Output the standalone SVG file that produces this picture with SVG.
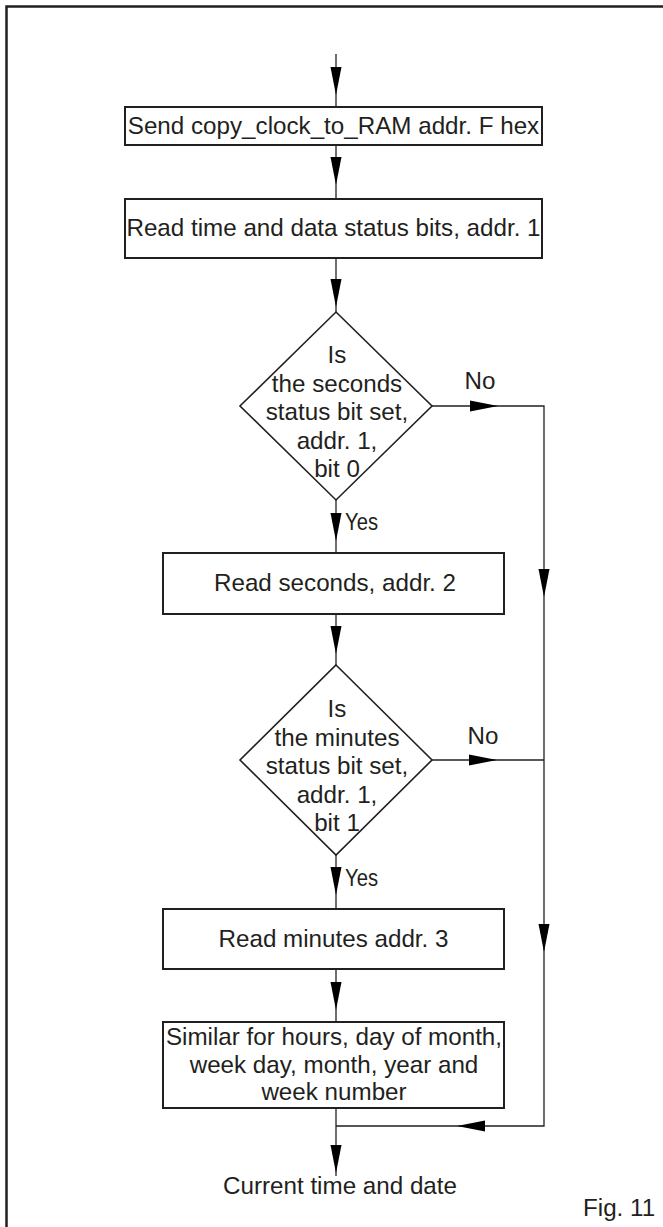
<svg xmlns="http://www.w3.org/2000/svg" xmlns:xlink="http://www.w3.org/1999/xlink" width="663" height="1227" viewBox="0 0 663 1227">
<style>
.frame{fill:none;stroke:#231f20;stroke-width:2.5}
.box{fill:#fff;stroke:#231f20;stroke-width:2}
.dia{fill:#fff;stroke:#231f20;stroke-width:1.6}
.ln{fill:none;stroke:#231f20;stroke-width:1.3}
.ah{fill:#000;stroke:none}
text{font-family:"Liberation Sans",Arial,Helvetica,sans-serif;font-size:24.2px;fill:#231f20}
.c{text-anchor:middle}
</style>
<defs>
<path id="ah" d="M-5.5,-28 L5.5,-28 L0,0 Z"/>
</defs>
<rect width="663" height="1227" fill="#fff"/>
<path class="frame" d="M6.5,1227 V6.5 H663"/>
<g id="connectors">
<path class="ln" d="M336,54 V107"/>
<path class="ln" d="M336,145 V199"/>
<path class="ln" d="M336,258 V312"/>
<path class="ln" d="M336,500 V553"/>
<path class="ln" d="M336,614 V665"/>
<path class="ln" d="M336,855 V909"/>
<path class="ln" d="M336,969 V1022"/>
<path class="ln" d="M336,1108 V1176"/>
<path class="ln" d="M432,406 H544 V1126 H336"/>
<path class="ln" d="M432,760 H544"/>
<use class="ah" xlink:href="#ah" transform="translate(336,95)"/>
<use class="ah" xlink:href="#ah" transform="translate(336,185)"/>
<use class="ah" xlink:href="#ah" transform="translate(336,307)"/>
<use class="ah" xlink:href="#ah" transform="translate(336,541)"/>
<use class="ah" xlink:href="#ah" transform="translate(336,654)"/>
<use class="ah" xlink:href="#ah" transform="translate(336,895)"/>
<use class="ah" xlink:href="#ah" transform="translate(336,1010)"/>
<use class="ah" xlink:href="#ah" transform="translate(336,1173)"/>
<use class="ah" xlink:href="#ah" transform="translate(498,406) rotate(-90)"/>
<use class="ah" xlink:href="#ah" transform="translate(497,760) rotate(-90)"/>
<use class="ah" xlink:href="#ah" transform="translate(544,597)"/>
<use class="ah" xlink:href="#ah" transform="translate(544,952)"/>
<use class="ah" xlink:href="#ah" transform="translate(457,1126) rotate(90)"/>
<text x="480" y="389" class="c">No</text>
<text x="483" y="744" class="c">No</text>
<text x="345" y="530" textLength="33" lengthAdjust="spacingAndGlyphs">Yes</text>
<text x="345" y="886" textLength="33" lengthAdjust="spacingAndGlyphs">Yes</text>
</g>
<g id="send">
<rect class="box" x="125" y="107" width="417" height="38"/>
<text x="333.5" y="134" class="c">Send copy_clock_to_RAM addr. F hex</text>
</g>
<g id="readstatus">
<rect class="box" x="125" y="199" width="417" height="59"/>
<text x="333.5" y="236" class="c">Read time and data status bits, addr. 1</text>
</g>
<g id="dec-seconds">
<path class="dia" d="M336,312 L432,406 L336,500 L240,406 Z"/>
<text x="337" y="363" class="c">Is</text>
<text x="337" y="391.5" class="c">the seconds</text>
<text x="337" y="420" class="c">status bit set,</text>
<text x="337" y="448.5" class="c">addr. 1,</text>
<text x="337" y="477" class="c">bit 0</text>
</g>
<g id="readseconds">
<rect class="box" x="163" y="553" width="341" height="61"/>
<text x="335" y="591" class="c">Read seconds, addr. 2</text>
</g>
<g id="dec-minutes">
<path class="dia" d="M336,665 L432,760 L336,855 L240,760 Z"/>
<text x="337" y="717" class="c">Is</text>
<text x="337" y="745.5" class="c">the minutes</text>
<text x="337" y="774" class="c">status bit set,</text>
<text x="337" y="802.5" class="c">addr. 1,</text>
<text x="337" y="831" class="c">bit 1</text>
</g>
<g id="readminutes">
<rect class="box" x="163" y="909" width="341" height="60"/>
<text x="333.5" y="947" class="c">Read minutes addr. 3</text>
</g>
<g id="similar">
<rect class="box" x="163" y="1022" width="341" height="86"/>
<text x="334" y="1045" class="c">Similar for hours, day of month,</text>
<text x="334" y="1073" class="c">week day, month, year and</text>
<text x="334" y="1100" class="c">week number</text>
</g>
<g id="result">
<text x="340" y="1194" class="c">Current time and date</text>
</g>
<text x="583" y="1216">Fig. 11</text>
</svg>
